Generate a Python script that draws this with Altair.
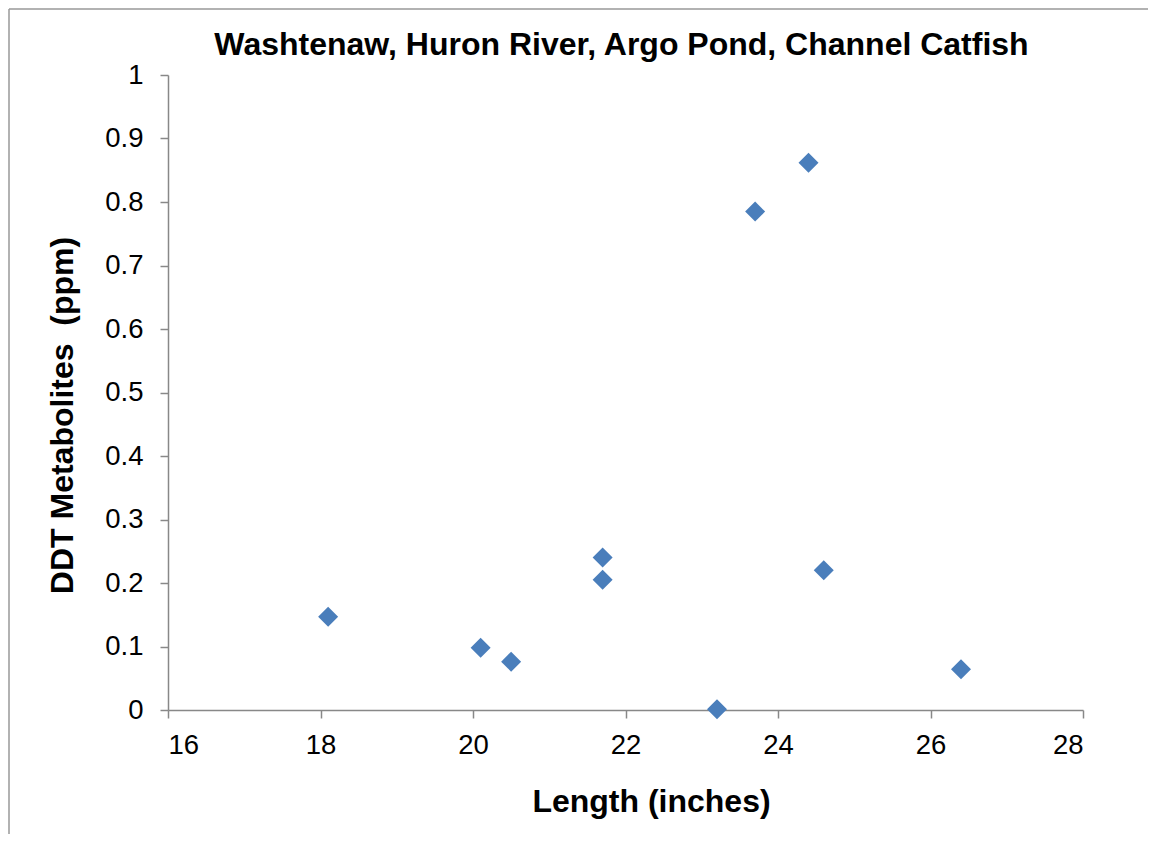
import altair as alt
import pandas as pd

length_in = [18.1, 20.1, 20.5, 21.7, 21.7, 23.2, 23.7, 24.4, 24.6, 26.4]
ddt_ppm = [0.147, 0.098, 0.076, 0.240, 0.205, 0.001, 0.785, 0.862, 0.220, 0.064]

x_ticks = [16, 18, 20, 22, 24, 26, 28]
y_ticks = [0, 0.1, 0.2, 0.3, 0.4, 0.5, 0.6, 0.7, 0.8, 0.9, 1.0]

df = pd.DataFrame({"length": length_in, "ddt": ddt_ppm})
one = pd.DataFrame({"a": [0]})

FONT = "Liberation Sans"
AX = "#888888"

points = alt.Chart(df).mark_point(
    shape="diamond", filled=True, size=400, color="#4A7EBB", opacity=1
).encode(
    x=alt.X("length:Q",
            scale=alt.Scale(domain=[16, 28], nice=False, zero=False),
            axis=alt.Axis(values=x_ticks, title="Length (inches)",
                          labelBaseline="alphabetic", labelPadding=35,
                          titleX=483, titleY=101, titleBaseline="alphabetic",
                          titleAlign="center")),
    y=alt.Y("ddt:Q",
            scale=alt.Scale(domain=[0, 1], nice=False),
            axis=alt.Axis(values=y_ticks, format=".1~f",
                          title="DDT Metabolites \u00a0(ppm)",
                          labelPadding=17,
                          titleAngle=-90, titleX=-96, titleY=340,
                          titleBaseline="alphabetic", titleAlign="center")),
)

left_border = alt.Chart(one).mark_rule(color="#999999", strokeWidth=1.5).encode(
    x=alt.value(-159), y=alt.value(-66), y2=alt.value(900)
)
top_border = alt.Chart(one).mark_rule(color="#999999", strokeWidth=1.5).encode(
    x=alt.value(-159), x2=alt.value(1200), y=alt.value(-66)
)

chart = alt.layer(left_border, top_border, points).properties(
    width=915,
    height=635,
    autosize=alt.AutoSizeParams(type="none"),
    padding={"left": 160, "top": 67, "right": 65, "bottom": 124},
    title=alt.Title("Washtenaw, Huron River, Argo Pond, Channel Catfish",
                    frame="group", anchor="middle", orient="top",
                    baseline="alphabetic",
                    offset=-79, dx=-4, font=FONT, fontSize=32,
                    fontWeight="bold", color="black"),
).configure_view(stroke=None).configure_axis(
    grid=False,
    domainColor=AX, domainWidth=1.5,
    tickColor=AX, tickWidth=1.5, tickSize=8,
    labelFont=FONT, labelFontSize=27.5, labelColor="black",
    titleFont=FONT, titleFontSize=32, titleFontWeight="bold",
    titleColor="black",
)

chart.save("out.html", embed_options={"renderer": "svg", "actions": False})
